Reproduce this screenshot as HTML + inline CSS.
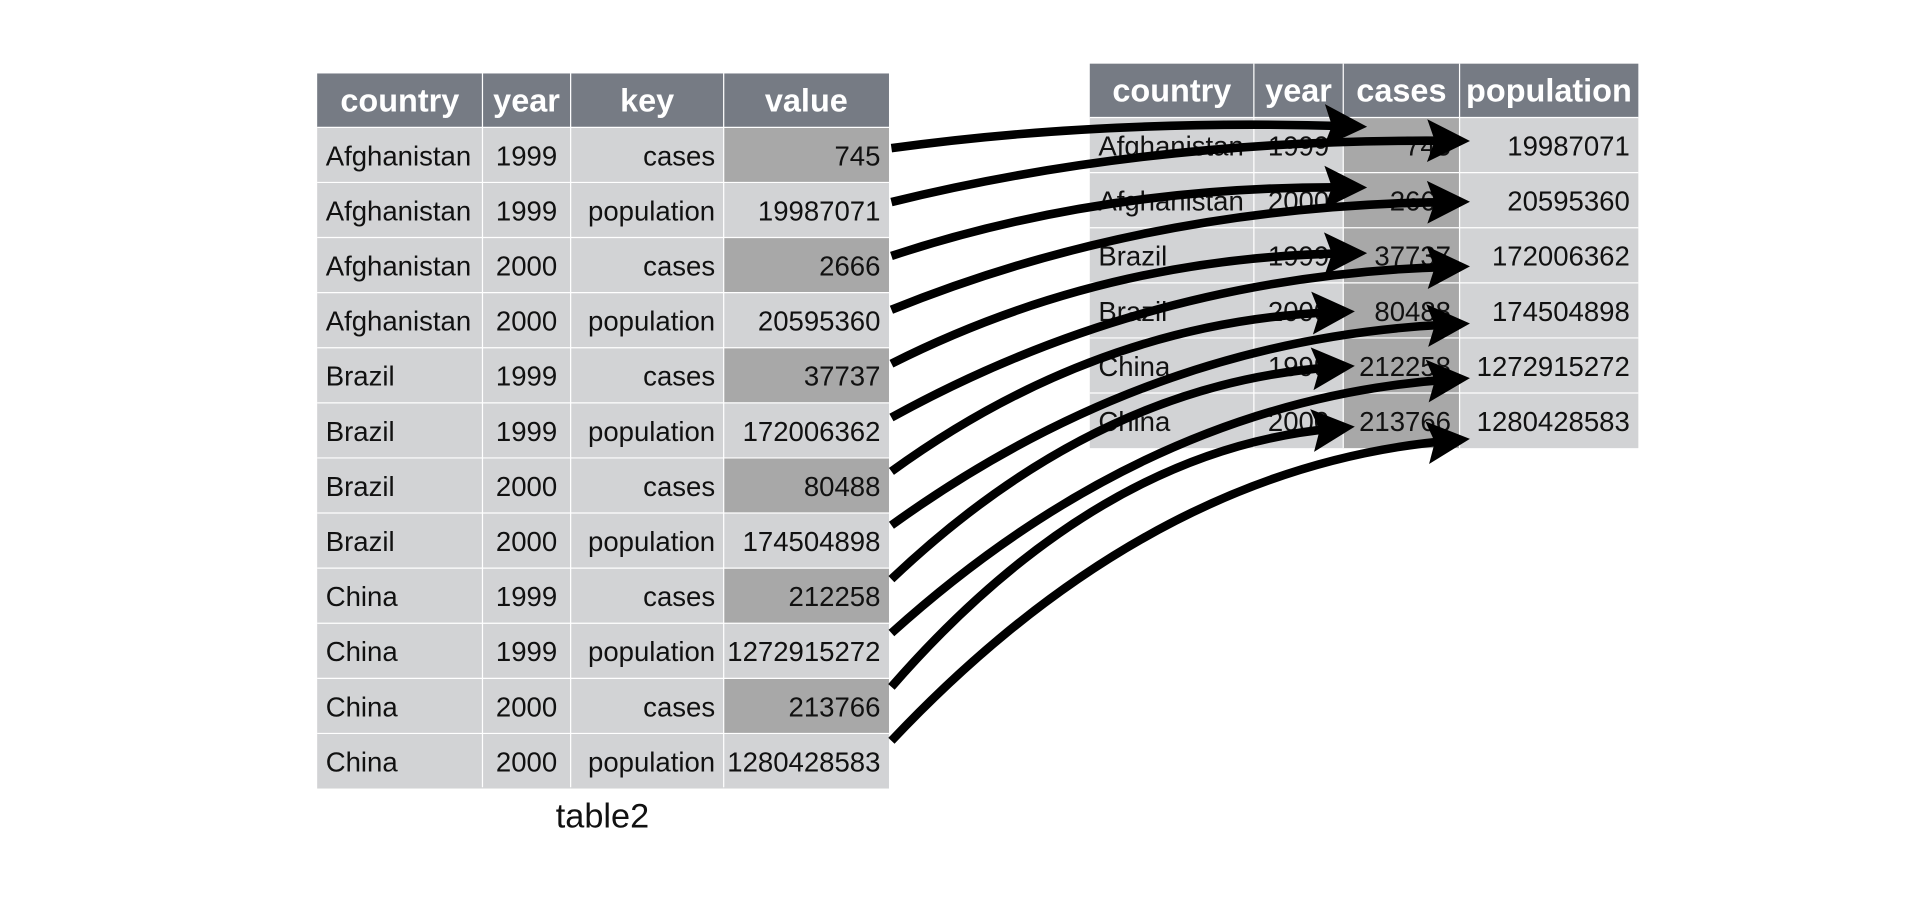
<!DOCTYPE html>
<html><head><meta charset="utf-8"><style>
html,body{margin:0;padding:0;background:#fff;}
svg{display:block;}
text{font-family:"Liberation Sans",Arial,sans-serif;}
.h{fill:#fff;font-weight:bold;font-size:26.5px;}
.b{fill:#111;font-size:22.5px;}
</style></head><body>
<svg width="1920" height="898" viewBox="0 0 1568 733.4" xmlns="http://www.w3.org/2000/svg">
<defs>
<marker id="ah" markerUnits="userSpaceOnUse" markerWidth="40" markerHeight="40" viewBox="-2 -16 32 32" refX="14" refY="0" orient="auto">
<path d="M0,-14 L28,0 L0,14 L5,0 Z" fill="#000"/>
</marker>
</defs>
<rect width="1568" height="733.4" fill="#fff"/>
<g id="left"></g>
<g id="right"></g>
<g id="arrows"></g>
<text x="492" y="676" text-anchor="middle" style="font-size:28px;fill:#111">table2</text>
</svg>
<script>
const NS="http://www.w3.org/2000/svg";
function el(p,t,a,txt){const e=document.createElementNS(NS,t);for(const k in a)e.setAttribute(k,a[k]);if(txt!==undefined)e.textContent=txt;p.appendChild(e);return e;}
const L=document.getElementById('left'),R=document.getElementById('right'),A=document.getElementById('arrows');
const lx=[259,394,466,591,726];
const lh=["country","year","key","value"];
const rows=[["Afghanistan","1999","cases","745"],["Afghanistan","1999","population","19987071"],["Afghanistan","2000","cases","2666"],["Afghanistan","2000","population","20595360"],["Brazil","1999","cases","37737"],["Brazil","1999","population","172006362"],["Brazil","2000","cases","80488"],["Brazil","2000","population","174504898"],["China","1999","cases","212258"],["China","1999","population","1272915272"],["China","2000","cases","213766"],["China","2000","population","1280428583"]];
const al=["l","c","r","r"];
function txt(g,x0,x1,y,s,a,cls){let x,anc;if(a=="l"){x=x0+7;anc="start"}else if(a=="c"){x=(x0+x1)/2;anc="middle"}else{x=x1-7;anc="end"}el(g,'text',{x:x,y:y,'text-anchor':anc,'class':cls},s);}
for(let c=0;c<4;c++){el(L,'rect',{x:lx[c],y:60,width:lx[c+1]-lx[c],height:44,fill:'#767b84'});txt(L,lx[c],lx[c+1],91,lh[c],"c","h");}
rows.forEach((r,i)=>{const y=104+45*i;for(let c=0;c<4;c++){const dark=(c==3&&r[2]=="cases");el(L,'rect',{x:lx[c],y:y,width:lx[c+1]-lx[c],height:45,fill:dark?'#a8a8a8':'#d2d3d5'});txt(L,lx[c],lx[c+1],y+31,r[c],al[c],"b");}});
for(let c=1;c<4;c++)el(L,'line',{x1:lx[c],y1:60,x2:lx[c],y2:643,stroke:'#fff','stroke-width':1});
for(let i=0;i<12;i++)el(L,'line',{x1:259,y1:104+45*i,x2:726,y2:104+45*i,stroke:'#fff','stroke-width':1});
const rx=[890,1024,1097,1192,1338];
const rh=["country","year","cases","population"];
const rr=[["Afghanistan","1999","745","19987071"],["Afghanistan","2000","2666","20595360"],["Brazil","1999","37737","172006362"],["Brazil","2000","80488","174504898"],["China","1999","212258","1272915272"],["China","2000","213766","1280428583"]];
const ral=["l","c","r","r"];
for(let c=0;c<4;c++){el(R,'rect',{x:rx[c],y:52,width:rx[c+1]-rx[c],height:44,fill:'#767b84'});txt(R,rx[c],rx[c+1],83,rh[c],"c","h");}
rr.forEach((r,i)=>{const y=96+45*i;for(let c=0;c<4;c++){el(R,'rect',{x:rx[c],y:y,width:rx[c+1]-rx[c],height:45,fill:c==2?'#a8a8a8':'#d2d3d5'});txt(R,rx[c],rx[c+1],y+31,r[c],ral[c],"b");}});
for(let c=1;c<4;c++)el(R,'line',{x1:rx[c],y1:52,x2:rx[c],y2:366,stroke:'#fff','stroke-width':1});
for(let i=0;i<6;i++)el(R,'line',{x1:890,y1:96+45*i,x2:1338,y2:96+45*i,stroke:'#fff','stroke-width':1});
const tips=[[1113,103],[1197,115],[1113,153],[1197,165],[1113,207],[1197,218],[1103,255],[1197,265],[1103,300],[1197,310],[1103,350],[1197,360]];
tips.forEach((t,i)=>{const x0=728,y0=121+44*i;const [x1,y1]=t;const cx=x0+0.45*(x1-x0),cy=y1+0.12*(y0-y1)-8;
el(A,'path',{d:`M${x0},${y0} Q${cx},${cy} ${x1-14},${y1}`,fill:'none',stroke:'#000','stroke-width':7,'marker-end':'url(#ah)'});});
</script>
</body></html>
